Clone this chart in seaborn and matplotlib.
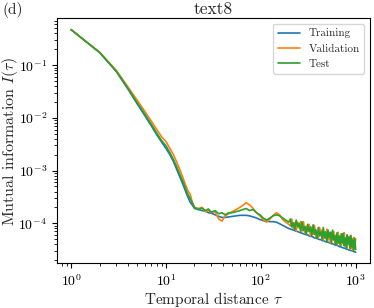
import matplotlib
matplotlib.use('Agg')  # Headless
import matplotlib.pyplot as plt
import seaborn as sns
import numpy as np
import pandas as pd

# temporal distances and log10 of mutual information
tau = [1, 2, 3, 4, 5, 6, 7, 8, 9, 10, 11, 12, 13, 14, 15, 16, 17, 18, 19, 20,
       22, 24, 26, 28, 30, 33, 36, 39, 42, 46, 50, 55, 60, 65, 70, 76, 83, 90,
       98, 106, 115, 125, 135, 146, 158, 170, 183, 197,
       205, 212, 220, 228, 236, 245, 254, 263, 272, 282,
       292, 302, 312, 323, 334, 345, 356, 368, 380, 392,
       404, 417, 430, 443, 456, 470, 484, 498, 512, 527,
       542, 557, 572, 588, 604, 620, 636, 653, 670, 687,
       704, 722, 740, 758, 776, 795, 814, 833, 852, 872,
       892, 912, 932, 953, 976, 1000]

train_log = [-0.325, -0.76, -1.12, -1.46, -1.74, -1.96, -2.15, -2.32, -2.46, -2.58,
             -2.70, -2.83, -2.98, -3.12, -3.25, -3.38, -3.50, -3.60, -3.66, -3.72,
             -3.74, -3.76, -3.77, -3.80, -3.81, -3.84, -3.87, -3.89, -3.89, -3.88,
             -3.87, -3.86, -3.85, -3.85, -3.85, -3.86, -3.88, -3.90, -3.93, -3.95,
             -3.96, -3.97, -3.97, -3.98, -4.01, -4.04, -4.07, -4.10,
             -4.11, -4.12, -4.13, -4.14, -4.15, -4.16, -4.17, -4.18, -4.19, -4.20,
             -4.21, -4.22, -4.22, -4.24, -4.25, -4.25, -4.26, -4.28, -4.28, -4.29,
             -4.30, -4.31, -4.31, -4.33, -4.33, -4.34, -4.35, -4.36, -4.36, -4.37,
             -4.38, -4.39, -4.39, -4.40, -4.41, -4.42, -4.42, -4.43, -4.44, -4.45,
             -4.45, -4.46, -4.47, -4.47, -4.48, -4.49, -4.49, -4.50, -4.51, -4.51,
             -4.52, -4.52, -4.53, -4.54, -4.54, -4.55]

valid_log = [-0.325, -0.755, -1.10, -1.42, -1.67, -1.88, -2.06, -2.22, -2.36, -2.45,
             -2.58, -2.70, -2.84, -2.98, -3.12, -3.26, -3.38, -3.45, -3.60, -3.70,
             -3.72, -3.70, -3.78, -3.76, -3.80, -3.78, -3.92, -3.96, -3.86, -3.82,
             -3.78, -3.74, -3.70, -3.66, -3.61, -3.65, -3.72, -3.80, -3.86, -3.93,
             -3.98, -3.92, -3.85, -3.80, -3.84, -3.93, -3.98, -4.02,
             -4.05, -3.92, -4.10, -3.99, -4.15, -3.98, -4.09, -3.97, -4.15, -3.97,
             -4.19, -4.06, -4.15, -4.02, -4.24, -4.08, -4.21, -4.04, -4.25, -4.15,
             -4.28, -4.08, -4.23, -4.12, -4.32, -4.17, -4.29, -4.11, -4.32, -4.18,
             -4.38, -4.17, -4.30, -4.16, -4.38, -4.22, -4.41, -4.17, -4.37, -4.27,
             -4.42, -4.20, -4.39, -4.18, -4.43, -4.28, -4.47, -4.25, -4.41, -4.24,
             -4.48, -4.29, -4.52, -4.27, -4.46, -4.30]

test_log = [-0.325, -0.76, -1.115, -1.445, -1.72, -1.93, -2.12, -2.29, -2.43, -2.53,
            -2.66, -2.79, -2.93, -3.07, -3.20, -3.33, -3.45, -3.53, -3.62, -3.70,
            -3.74, -3.71, -3.76, -3.73, -3.79, -3.76, -3.82, -3.80, -3.84, -3.80,
            -3.80, -3.78, -3.76, -3.74, -3.72, -3.76, -3.74, -3.80, -3.84, -3.90,
            -3.94, -3.90, -3.86, -3.84, -3.86, -3.90, -3.94, -3.98,
            -3.92, -4.07, -3.99, -4.12, -3.94, -4.07, -4.00, -4.15, -3.97, -4.14,
            -4.06, -4.21, -4.02, -4.16, -4.07, -4.23, -4.03, -4.21, -4.12, -4.29,
            -4.08, -4.24, -4.16, -4.30, -4.08, -4.28, -4.16, -4.35, -4.13, -4.27,
            -4.17, -4.37, -4.13, -4.32, -4.24, -4.41, -4.18, -4.38, -4.24, -4.42,
            -4.20, -4.37, -4.19, -4.43, -4.28, -4.47, -4.22, -4.39, -4.27, -4.48,
            -4.23, -4.45, -4.32, -4.52, -4.28, -4.50]

series = ['Training', 'Validation', 'Test']
colors = ['#1f77b4', '#ff7f0e', '#2ca02c']

sns.set_style("ticks")
plt.rcParams.update({
    'font.family': 'serif',
    'font.serif': ['cmr10'],
    'mathtext.fontset': 'cm',
    'axes.formatter.use_mathtext': True,
    'axes.edgecolor': 'black',
    'xtick.color': 'black',
    'ytick.color': 'black',
    'font.size': 10,
})

df = pd.DataFrame({'tau': tau,
                   'Training': np.power(10.0, train_log),
                   'Validation': np.power(10.0, valid_log),
                   'Test': np.power(10.0, test_log)})

fig = plt.figure(figsize=(3.74, 3.08), dpi=100)
ax = fig.add_axes([0.152, 0.145, 0.837, 0.795])

for name, c in zip(series, colors):
    sns.lineplot(data=df, x='tau', y=name, color=c, lw=1.2, label=name, ax=ax)

ax.set_xscale('log')
ax.set_yscale('log')
ax.set_title('text8', fontsize=12.5, pad=3)
ax.set_xlabel(r'Temporal distance $\tau$', fontsize=11, labelpad=1)
ax.set_ylabel(r'Mutual information $I(\tau)$', fontsize=11.5)
ax.yaxis.set_label_coords(-0.118, 0.5)
ax.legend(loc='upper right', fontsize=8)
fig.text(0.006, 0.992, '(d)', fontsize=11, va='top')

plt.savefig('out.png', dpi=100)
plt.close()
